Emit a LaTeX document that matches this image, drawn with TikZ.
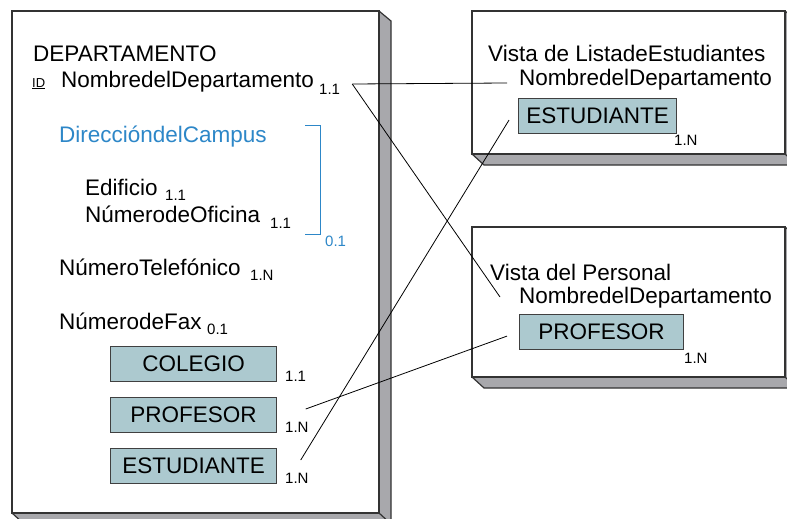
\documentclass[tikz,border=0pt]{standalone}
\usepackage{fontspec}
\setmainfont{Liberation Sans}
\usetikzlibrary{positioning}
\definecolor{cardfill}{RGB}{172,201,207}
\definecolor{campusblue}{RGB}{45,135,200}
\definecolor{shadowgray}{RGB}{168,168,172}

\begin{document}
\begin{tikzpicture}[
  x=1pt, y=-1pt,
  every node/.style={inner sep=0pt, anchor=base west},
  attr/.style={font=\fontsize{22.5}{25}\selectfont},
  mult/.style={font=\fontsize{15}{17}\selectfont},
  idmark/.style={font=\fontsize{13}{14}\selectfont},
  card/.style={draw=black!75, line width=1.2pt, fill=cardfill, anchor=north west,
               minimum width=166pt, minimum height=35pt, font=\fontsize{22.5}{25}\selectfont},
  pane/.style={draw=black!80, line width=1.6pt, fill=white},
  shade/.style={draw=black!80, line width=1.2pt, fill=shadowgray},
  link/.style={draw=black, line width=0.8pt}
]
\useasboundingbox (0,0) rectangle (787,519);
\clip (0,0) rectangle (787,519);

% panes with their shadows
\draw[shade] (379,11) -- (391,21) -- (391,524) -- (24,524) -- (12,513) -- cycle;
\draw[pane] (12,11) rectangle (379,513);
\draw[shade] (379,513) -- (391,524);

\draw[shade] (785,11) -- (797,21) -- (797,165) -- (484,165) -- (472,154) -- cycle;
\draw[pane] (472,11) rectangle (785,154);
\draw[shade] (785,154) -- (797,165);

\draw[shade] (785,227) -- (797,237) -- (797,388) -- (484,388) -- (472,377) -- cycle;
\draw[pane] (472,227) rectangle (785,377);
\draw[shade] (785,377) -- (797,388);

% DEPARTAMENTO
\node[attr] (dept) at (33,62) {DEPARTAMENTO};
\node[idmark] (idkey) at (32,87) {\underline{ID}};
\node[attr] (deptname) at (61,88) {NombredelDepartamento};
\node[mult] (deptname-m) at (319,94) {1.1};
\node[attr, text=campusblue] (campus) at (59,142) {DireccióndelCampus};
\node[attr] (bldg) at (85,195) {Edificio};
\node[mult] (bldg-m) at (165,200) {1.1};
\node[attr] (office) at (85,222) {NúmerodeOficina};
\node[mult] (office-m) at (270,228) {1.1};
\draw[campusblue, line width=1pt] (305,125) -| (320,234) -- (305,234);
\node[mult, text=campusblue] (campus-m) at (325,246) {0.1};
\node[attr] (phone) at (59,275) {NúmeroTelefónico};
\node[mult] (phone-m) at (250,280) {1.N};
\node[attr] (fax) at (59,329) {NúmerodeFax};
\node[mult] (fax-m) at (207,334) {0.1};
\node[card] (college) at (110,346) {COLEGIO};
\node[mult] (college-m) at (285,381) {1.1};
\node[card] (staff) at (110,397) {PROFESOR};
\node[mult] (staff-m) at (285,432) {1.N};
\node[card] (student) at (110,448) {ESTUDIANTE};
\node[mult] (student-m) at (285,483) {1.N};

% Vista de ListadeEstudiantes
\node[attr] (listview) at (488,62) {Vista de ListadeEstudiantes};
\node[attr] (listview-name) at (519,85) {NombredelDepartamento};
\node[card, minimum width=158pt] (listview-student) at (518,98) {ESTUDIANTE};
\node[mult] (listview-m) at (674,145) {1.N};

% Vista del Personal
\node[attr] (staffview) at (490,280) {Vista del Personal};
\node[attr] (staffview-name) at (519,303) {NombredelDepartamento};
\node[card, minimum width=164pt] (staffview-prof) at (519,314) {PROFESOR};
\node[mult] (staffview-m) at (684,363) {1.N};

% links
\coordinate (fork) at ([shift={(12,-10)}]deptname-m.base east);
\draw[link] (fork) -- ([shift={(-12,-2)}]listview-name.base west);
\draw[link] (fork) -- ([shift={(-19,-6)}]staffview-name.base west);
\draw[link] ([shift={(-3,-23)}]staff-m.base east) -- ([shift={(-12,4)}]staffview-prof.west);
\draw[link] ([shift={(-8,-23)}]student-m.base east) -- ([shift={(-9,4)}]listview-student.west);
\end{tikzpicture}
\end{document}
